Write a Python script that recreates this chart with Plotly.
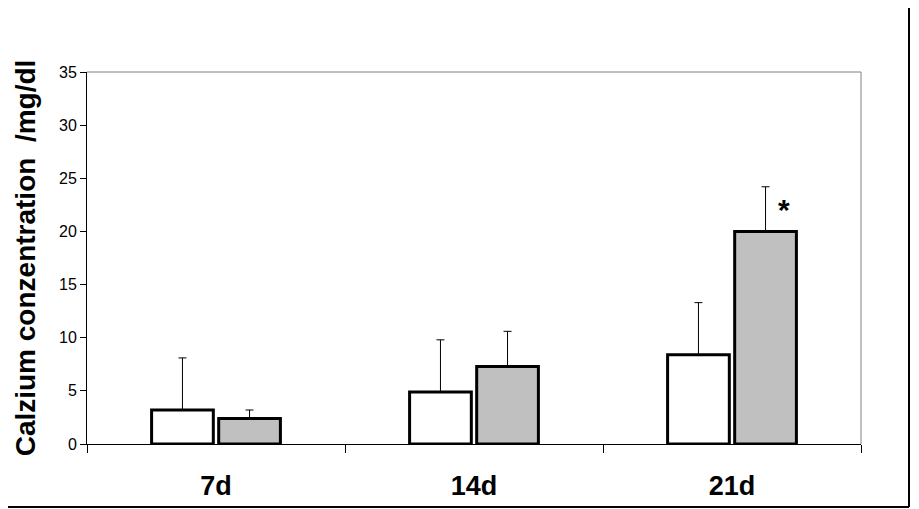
import plotly.graph_objects as go

days = ["7d", "14d", "21d"]
white_vals = [3.2, 4.9, 8.4]
white_err = [4.9, 4.9, 4.9]
gray_vals = [2.4, 7.3, 20.0]
gray_err = [0.8, 3.3, 4.2]

fig = go.Figure()
fig.add_trace(go.Bar(
    x=days, y=white_vals,
    marker=dict(color="white", line=dict(color="black", width=3)),
    error_y=dict(type="data", array=white_err, symmetric=False, arrayminus=[0, 0, 0],
                 color="black", thickness=1, width=4),
))
fig.add_trace(go.Bar(
    x=days, y=gray_vals,
    marker=dict(color="#C0C0C0", line=dict(color="black", width=3)),
    error_y=dict(type="data", array=gray_err, symmetric=False, arrayminus=[0, 0, 0],
                 color="black", thickness=1, width=4),
))

# significance marker
fig.add_annotation(x="21d", y=22.1, text="<b>*</b>", showarrow=False, xshift=52,
                   font=dict(size=30, color="black"))

# gray frame on top and right of plot area
fig.add_shape(type="line", xref="paper", yref="paper", x0=0, x1=1, y0=1, y1=1,
              line=dict(color="#808080", width=1))
fig.add_shape(type="line", xref="paper", yref="paper", x0=1, x1=1, y0=0, y1=1,
              line=dict(color="#808080", width=1))
# outer picture border (right and bottom)
fig.add_shape(type="line", xref="paper", yref="paper", x0=822 / 774, x1=822 / 774,
              y0=-63 / 372, y1=1.2, line=dict(color="black", width=2))
fig.add_shape(type="line", xref="paper", yref="paper", x0=-0.2, x1=822 / 774,
              y0=-63 / 372, y1=-63 / 372, line=dict(color="black", width=2))

fig.update_layout(
    width=911, height=501,
    margin=dict(l=79, r=58, t=64, b=65),
    paper_bgcolor="white", plot_bgcolor="white",
    showlegend=False,
    barmode="group", bargap=0.48, bargroupgap=0.08,
    font=dict(family="Arial, Liberation Sans, sans-serif", color="black"),
)
fig.update_xaxes(
    automargin=False,
    showline=True, linecolor="black", linewidth=1,
    ticks="outside", tickson="boundaries", ticklen=8, tickcolor="black",
    tickfont=dict(size=27), ticklabelstandoff=18,
    tickprefix="<b>", ticksuffix="</b>",
)
fig.update_yaxes(
    automargin=False,
    range=[0, 35], dtick=5, showgrid=False, zeroline=False,
    showline=True, linecolor="black", linewidth=1,
    ticks="outside", ticklen=6, tickcolor="black",
    tickfont=dict(size=16),
    title=dict(text="<b>Calzium conzentration  /mg/dl</b>", font=dict(size=28), standoff=15),
)

fig.write_html("out.html")
